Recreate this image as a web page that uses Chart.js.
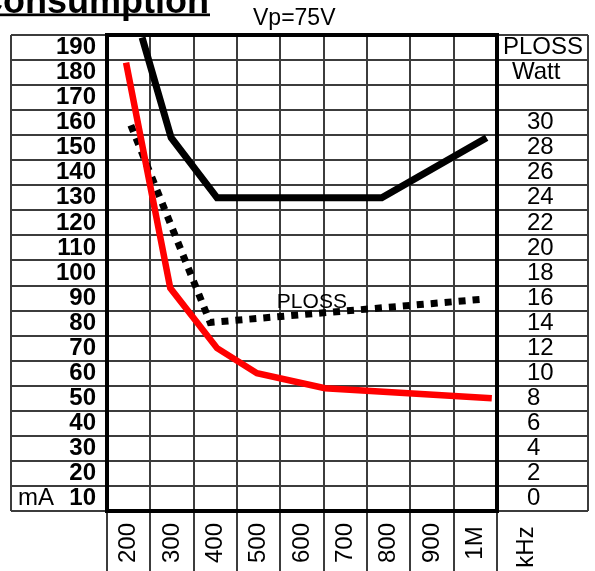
<!DOCTYPE html>
<html>
<head>
<meta charset="utf-8">
<script src="https://cdn.jsdelivr.net/npm/chart.js@4.4.1/dist/chart.umd.min.js"></script>
<style>
  html, body { margin: 0; padding: 0; background: #fff; overflow: hidden; }
  #wrap { position: relative; width: 595px; height: 571px; }
</style>
</head>
<body>
<div id="wrap"><canvas id="chart"></canvas></div>
<script>
// data (x in kHz, y in mA, PLOSS in Watt)
const blackFreq = [231, 298, 404, 784, 1026];
const blackCurrent = [194, 154, 130, 130, 154];

const redFreq = [194, 296, 404, 496, 653, 1038];
const redCurrent = [184, 94, 70, 60, 54, 50];

const plossFreq = [205, 388, 1015];
const plossWatt = [29.8, 14.05, 15.9];

// tick labels
const freqTicks = [200, 300, 400, 500, 600, 700, 800, 900, 1000];
const freqLabels = ['200', '300', '400', '500', '600', '700', '800', '900', '1M'];
const currentTicks = [190, 180, 170, 160, 150, 140, 130, 120, 110, 100, 90, 80, 70, 60, 50, 40, 30, 20, 10];
const wattTicks = [30, 28, 26, 24, 22, 20, 18, 16, 14, 12, 10, 8, 6, 4, 2, 0];

const GRID = '#3c3c3c';
const FONT = '"Liberation Sans", Arial, sans-serif';

function toPoints(xs, ys) {
  return xs.map((x, i) => ({ x: x, y: ys[i] }));
}

// side columns, frame, labels and titles
const sheetPlugin = {
  id: 'sheet',
  afterDraw(chart) {
    const ctx = chart.ctx;
    const area = chart.chartArea;
    const x = chart.scales.x;
    const y = chart.scales.y;
    const y2 = chart.scales.y2;

    ctx.save();
    ctx.strokeStyle = GRID;
    ctx.lineWidth = 2;
    ctx.beginPath();
    ctx.moveTo(y.left, area.top);
    ctx.lineTo(y.left, area.bottom);
    ctx.moveTo(y2.right, area.top);
    ctx.lineTo(y2.right, area.bottom);
    ctx.stroke();

    ctx.strokeStyle = '#000';
    ctx.lineWidth = 4;
    ctx.strokeRect(area.left, area.top, area.right - area.left, area.bottom - area.top);

    ctx.fillStyle = '#000';
    ctx.textBaseline = 'middle';

    // left column, mA
    ctx.font = 'bold 24px ' + FONT;
    ctx.textAlign = 'right';
    currentTicks.forEach(v => ctx.fillText(String(v), area.left - 11, y.getPixelForValue(v)));
    ctx.font = '24px ' + FONT;
    ctx.textAlign = 'left';
    ctx.fillText('mA', y.left + 7, y.getPixelForValue(10));

    // right column, Watt
    ctx.fillText('PLOSS', area.right + 6, y2.getPixelForValue(36));
    ctx.fillText('Watt', area.right + 15, y2.getPixelForValue(34));
    wattTicks.forEach(v => ctx.fillText(String(v), area.right + 30, y2.getPixelForValue(v)));

    // frequency labels, turned
    ctx.textAlign = 'center';
    ctx.textBaseline = 'alphabetic';
    freqTicks.forEach((v, i) => {
      ctx.save();
      ctx.translate(x.getPixelForValue(v) + 6.5, area.bottom + 32);
      ctx.rotate(-Math.PI / 2);
      ctx.fillText(freqLabels[i], 0, 0);
      ctx.restore();
    });
    ctx.save();
    ctx.translate(area.right + 36, area.bottom + 36);
    ctx.rotate(-Math.PI / 2);
    ctx.fillText('kHz', 0, 0);
    ctx.restore();

    // curve label
    ctx.font = '21px ' + FONT;
    ctx.textAlign = 'left';
    ctx.fillText('PLOSS', x.getPixelForValue(542), y2.getPixelForValue(15.2));

    // headings
    ctx.font = '23px ' + FONT;
    ctx.fillText('Vp=75V', 253, 25);
    ctx.font = 'bold 36px ' + FONT;
    ctx.textAlign = 'right';
    ctx.fillText('Consumption', 209, 12.5);
    ctx.fillRect(0, 13.5, 210, 2.7);
    ctx.restore();
  }
};

function setupChart() {
  new Chart(document.getElementById('chart'), {
    type: 'line',
    data: {
      datasets: [
        {
          label: 'I black',
          data: toPoints(blackFreq, blackCurrent),
          yAxisID: 'y',
          borderColor: '#000',
          borderWidth: 7,
          pointRadius: 0,
          tension: 0
        },
        {
          label: 'I red',
          data: toPoints(redFreq, redCurrent),
          yAxisID: 'y',
          borderColor: '#ff0000',
          borderWidth: 6.5,
          pointRadius: 0,
          tension: 0
        },
        {
          label: 'PLOSS',
          data: toPoints(plossFreq, plossWatt),
          yAxisID: 'y2',
          borderColor: '#000',
          borderWidth: 7,
          borderDash: [7, 7],
          borderCapStyle: 'butt',
          pointRadius: 0,
          tension: 0
        }
      ]
    },
    options: {
      responsive: true,
      maintainAspectRatio: false,
      animation: false,
      events: [],
      layout: { padding: { left: 11, right: 7, top: 35, bottom: 0 } },
      plugins: {
        legend: { display: false },
        tooltip: { enabled: false }
      },
      scales: {
        x: {
          type: 'linear',
          position: 'bottom',
          min: 150,
          max: 1050,
          ticks: { display: false, stepSize: 100 },
          grid: { color: GRID, lineWidth: 2, tickLength: 60 },
          border: { display: false }
        },
        y: {
          type: 'linear',
          position: 'left',
          min: 5,
          max: 195,
          ticks: { display: false, stepSize: 10 },
          grid: { color: GRID, lineWidth: 2, tickLength: 96 },
          border: { display: false }
        },
        y2: {
          type: 'linear',
          position: 'right',
          min: -1,
          max: 37,
          ticks: { display: false, stepSize: 2 },
          grid: { color: GRID, lineWidth: 2, tickLength: 91, drawOnChartArea: false },
          border: { display: false }
        }
      }
    },
    plugins: [sheetPlugin]
  });
}

setupChart();
</script>
</body>
</html>
